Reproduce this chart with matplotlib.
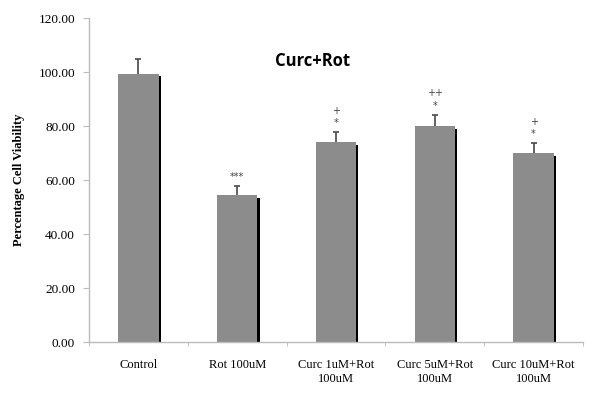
import matplotlib
matplotlib.use("Agg")
import matplotlib.pyplot as plt
import numpy as np

# data
groups = ["Control", "Rot 100uM", "Curc 1uM+Rot\n100uM",
          "Curc 5uM+Rot\n100uM", "Curc 10uM+Rot\n100uM"]
viability = [99.5, 54.5, 74.0, 80.0, 70.0]
errors = [5.5, 3.3, 3.8, 4.2, 3.7]
marks = ["", "***", "+\n*", "++\n*", "+\n*"]
yticks = [0, 20, 40, 60, 80, 100, 120]

fig = plt.figure(figsize=(6.01, 4.04), dpi=100)
ax = fig.add_axes([0.148, 0.153, 0.822, 0.802])

x = np.arange(len(groups))
width = 0.41
vals = np.array(viability)
errs = np.array(errors)

# black "shadow" on the right side of each bar
ax.bar(x + 0.022, vals - 1.0, width=width, color="black", zorder=1)
ax.bar(x, vals, width=width, color="#8c8c8c", zorder=2)
# upper error bars only
ax.vlines(x, vals, vals + errs, color="#555555", lw=1.3, zorder=3)
ax.hlines(vals + errs, x - 0.03, x + 0.03, color="#555555", lw=1.3, zorder=3)

for xi, v, e, m in zip(x, vals, errs, marks):
    if m:
        ax.text(xi, v + e + 1.5, m, ha="center", va="bottom", fontsize=7,
                color="#444444", linespacing=1.3, family="DejaVu Sans")

ax.set_xlim(-0.5, len(groups) - 0.5)
ax.set_ylim(0, 120)
ax.set_yticks(yticks)
ax.set_yticklabels(["%.2f" % t for t in yticks], family="Liberation Serif", fontsize=9.5)
ax.set_xticks(x)
ax.set_xticklabels(groups, family="Liberation Serif", fontsize=9)
ax.tick_params(axis="x", length=0, pad=12)
ax.set_xticks(np.arange(-0.5, len(groups)), minor=True)
ax.tick_params(axis="x", which="minor", length=3, color="#bbbbbb", direction="out")
ax.tick_params(axis="y", length=4, color="#bbbbbb", direction="out", pad=6)

for s in ["top", "right"]:
    ax.spines[s].set_visible(False)
for s in ["left", "bottom"]:
    ax.spines[s].set_color("#bbbbbb")
    ax.spines[s].set_linewidth(1.0)

ax.set_ylabel("Percentage Cell Viability", family="Liberation Serif",
              fontweight="bold", fontsize=9, labelpad=10)
ax.text(1.76, 104, "Curc+Rot", ha="center", va="center", fontsize=12,
        fontweight="bold", family="Open Sans")

fig.savefig("out.png", dpi=100)
